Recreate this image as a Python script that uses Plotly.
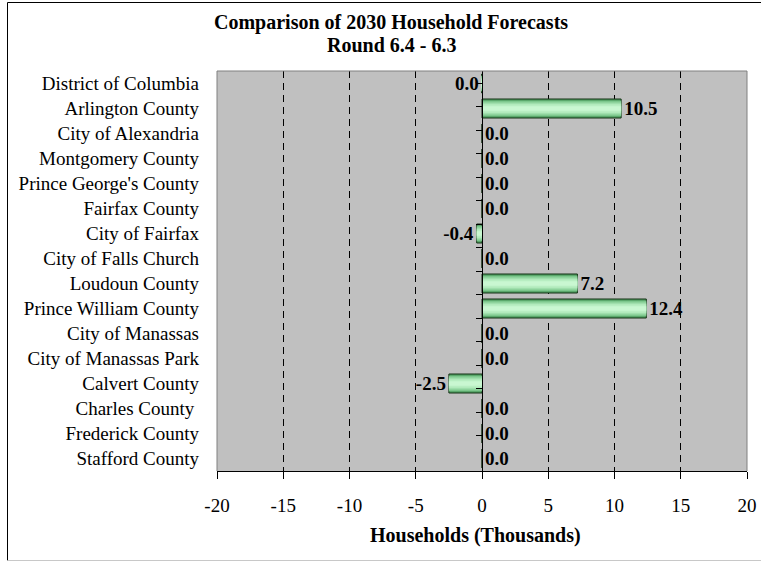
import plotly.graph_objects as go

categories = ["District of Columbia", "Arlington County", "City of Alexandria",
              "Montgomery County", "Prince George's County", "Fairfax County",
              "City of Fairfax", "City of Falls Church", "Loudoun County",
              "Prince William County", "City of Manassas", "City of Manassas Park",
              "Calvert County", "Charles County\u00a0", "Frederick County", "Stafford County"]
values = [-0.02, 10.5, 0.0, 0.0, 0.0, 0.0, -0.4, 0.0, 7.2, 12.4, 0.0, 0.0, -2.5, 0.0, 0.0, 0.0]
x_ticks = [-20, -15, -10, -5, 0, 5, 10, 15, 20]
x_tick_labels = [str(v) for v in x_ticks]
title_lines = ["Comparison of 2030 Household Forecasts", "Round 6.4 - 6.3"]
x_title = "Households (Thousands)"

def fmt(v):
    s = f"{v:.1f}"
    return "0.0" if s == "-0.0" else s

labels = [fmt(v) for v in values]

FONT = "Liberation Serif"
W, H = 761, 565
L, R, T, B = 217, 14, 71, 94
pw, ph = W - L - R, H - T - B

def px_x(p):
    return (p - L) / pw

def px_y(p):
    return (H - B - p) / ph

fig = go.Figure()

# layered bars to emulate the gradient fill
layers = [
    (0.76, "#4f9e61", dict(color="#163316", width=1)),
    (0.62, "#7cc78c", dict(width=0)),
    (0.48, "#9fdfac", dict(width=0)),
    (0.34, "#b8eec2", dict(width=0)),
    (0.18, "#c9f7d1", dict(width=0)),
]
for i, (w, c, ln) in enumerate(layers):
    fig.add_trace(go.Bar(
        x=values, y=categories, orientation="h", width=w,
        marker=dict(color=c, line=ln),
        text=labels if i == 0 else None,
        textposition="outside" if i == 0 else "none",
        constraintext="none",
        textfont=dict(family=FONT, size=19, color="black", weight="bold"),
        cliponaxis=False, hoverinfo="skip", showlegend=False,
    ))

# helper trace for the category axis drawn at x = 0
fig.add_trace(go.Scatter(x=[0] * len(categories), y=categories, yaxis="y2",
                         mode="markers", marker=dict(opacity=0),
                         hoverinfo="skip", showlegend=False))

annotations = [
    dict(text="<b>" + title_lines[0] + "</b>", xref="paper", yref="paper",
         x=px_x(391), y=px_y(23), xanchor="center", yanchor="middle",
         showarrow=False, font=dict(family=FONT, size=20, color="black")),
    dict(text="<b>" + title_lines[1] + "</b>", xref="paper", yref="paper",
         x=px_x(391), y=px_y(45), xanchor="center", yanchor="middle",
         showarrow=False, font=dict(family=FONT, size=20, color="black")),
    dict(text="<b>" + x_title + "</b>", xref="paper", yref="paper",
         x=px_x(475), y=px_y(535), xanchor="center", yanchor="middle",
         showarrow=False, font=dict(family=FONT, size=20, color="black")),
]

fig.update_layout(
    width=W, height=H,
    margin=dict(l=L, r=R, t=T, b=B, autoexpand=False),
    paper_bgcolor="white", plot_bgcolor="#c0c0c0",
    barmode="overlay",
    font=dict(family=FONT, size=19, color="black"),
    annotations=annotations,
    xaxis=dict(range=[-20, 20], tickvals=x_ticks, ticktext=x_tick_labels,
               ticks="outside", ticklen=7,
               tickcolor="black", showline=True, linecolor="black", linewidth=1,
               showgrid=True, gridcolor="black", gridwidth=1, griddash="7px,5px",
               zeroline=False, ticklabelstandoff=10,
               tickfont=dict(family=FONT, size=19)),
    yaxis=dict(type="category", categoryorder="array", categoryarray=categories,
               autorange="reversed", ticks="", showline=False, showgrid=False,
               ticklabelstandoff=17, tickfont=dict(family=FONT, size=19)),
    yaxis2=dict(type="category", categoryorder="array", categoryarray=categories,
                autorange="reversed", overlaying="y", anchor="free", position=0.5,
                side="left", showline=True, linecolor="black", linewidth=1,
                ticks="outside", ticklen=6, tickcolor="black", tickson="boundaries",
                showticklabels=False, showgrid=False),
    shapes=[
        dict(type="path", xref="paper", yref="paper",
             path="M 0,0 L 0,1 L 1,1 L 1,0", line=dict(color="#808080", width=1),
             layer="above"),
        dict(type="path", xref="paper", yref="paper",
             path=f"M {px_x(761)},{px_y(2.5)} L {px_x(7.5)},{px_y(2.5)} L {px_x(7.5)},{px_y(560.5)}",
             line=dict(color="black", width=1)),
        dict(type="line", xref="paper", yref="paper",
             x0=px_x(7.5), x1=px_x(761), y0=px_y(560.5), y1=px_y(560.5),
             line=dict(color="#c8c8c8", width=1)),
    ],
)

fig.write_html("out.html", config={"displayModeBar": False},
               post_script="document.body.style.margin='0px';")
